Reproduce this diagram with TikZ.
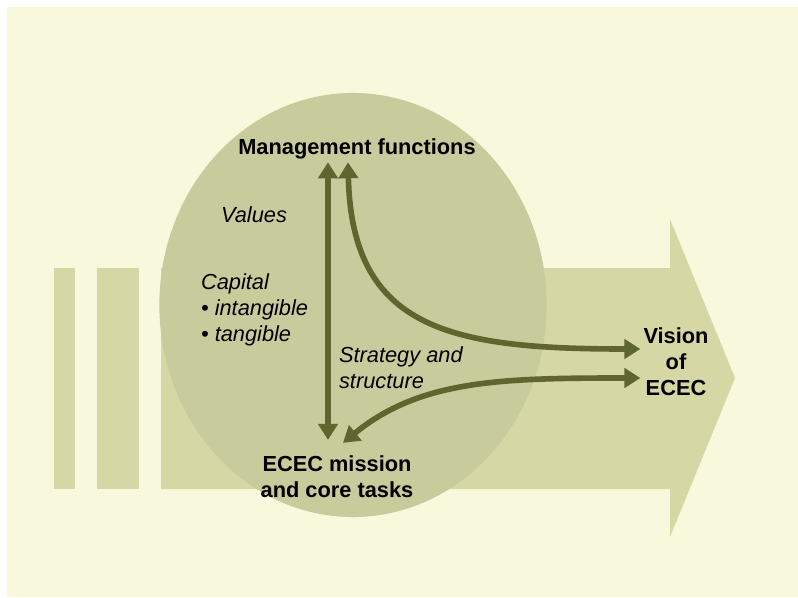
\documentclass[tikz,border=0pt]{standalone}
\usepackage{fontspec}
\setmainfont{Liberation Sans}
\usepackage{tikz}
\usetikzlibrary{
    positioning,
    arrows.meta,
    shapes.geometric,
    calc
}
\definecolor{PageBg}{RGB}{248,248,221}
\definecolor{FlowLight}{RGB}{213,216,165}
\definecolor{CoreFill}{RGB}{200,203,156}
\definecolor{LinkDark}{RGB}{94,101,46}

\begin{document}
\begin{tikzpicture}[
            x=0.025cm, y=-0.025cm,
            >={Triangle[width=0.48cm, length=0.4cm]},
            link/.style={draw=LinkDark, line width=4pt},
            heading/.style={font=\fontsize{15.5}{18.5}\selectfont\bfseries, align=center, inner sep=2pt},
            note/.style={font=\fontsize{15.5}{18.5}\selectfont\itshape, align=left, inner sep=2pt, anchor=west},
        ]

        % page frame
        \fill[white] (0,0) rectangle (798,598);
        \fill[PageBg] (7,7) rectangle (798,597);

        % ===== BACKGROUND FLOW ARROW =====
        \fill[FlowLight] (54,268) rectangle (75,489);
        \fill[FlowLight] (97,268) rectangle (139,489);
        \fill[FlowLight] (161,268) -- (670,268) -- (670,219) -- (735,378)
            -- (670,537) -- (670,489) -- (161,489) -- cycle;

        % ===== CORE CIRCLE =====
        \fill[CoreFill] (353,305) ellipse [x radius=4.84cm, y radius=5.3cm];

        % ===== LABELS =====
        \node[heading] (mgmt) at (357,149) {Management functions};
        \node[heading] (mission) at (337,477) {ECEC mission\\and core tasks};
        \node[heading] (vision) at (676,362) {Vision\\of\\ECEC};

        \node[note] (values) at (218,215) {Values};
        \node[note] (capital) at (198,310) {Capital\\• intangible\\• tangible};
        \node[note] (strategy) at (336,368) {Strategy and\\structure};

        % ===== LINKS =====
        \draw[link, <->] ([xshift=-0.725cm]mgmt.south) -- ([xshift=-0.225cm, yshift=0.325cm]mission.north);
        \draw[link, <->] ([xshift=-0.225cm]mgmt.south) .. controls +(4,167) and +(-190,0) .. ([yshift=0.325cm]vision.west);
        \draw[link, <->] ([yshift=-0.4cm]vision.west) .. controls +(-140,0) and +(77,-63) .. ([xshift=0.15cm, yshift=0.25cm]mission.north);
        \end{tikzpicture}
\end{document}
